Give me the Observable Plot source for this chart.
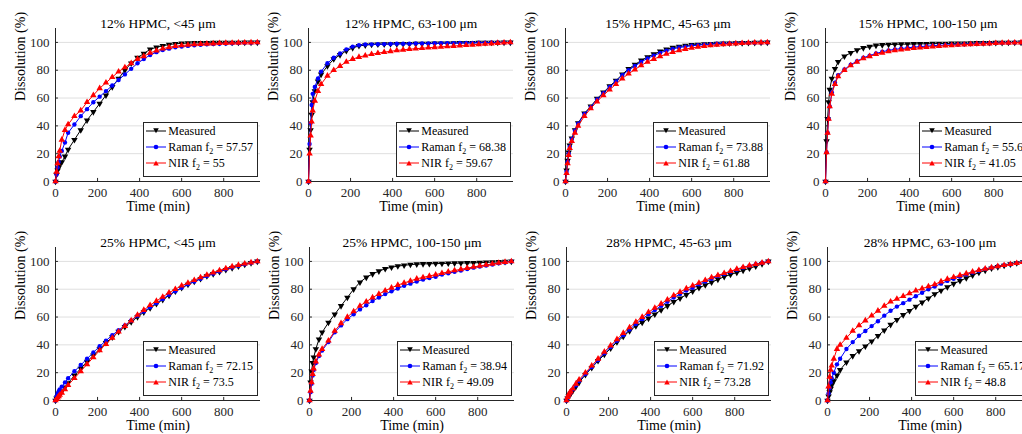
<!DOCTYPE html>
<html><head><meta charset="utf-8">
<script src="https://cdn.jsdelivr.net/npm/d3@7"></script>
<script src="https://cdn.jsdelivr.net/npm/@observablehq/plot@0.6"></script>
<style>
html,body{margin:0;padding:0;background:#fff;}
#fig{position:relative;width:1022px;height:434px;overflow:hidden;font-family:'Liberation Serif',serif;}
.panel{position:absolute;width:262px;height:218px;}
.panel > svg{position:absolute;left:0;top:0;background:transparent;overflow:visible;font-family:'Liberation Serif',serif;}
.panel > svg text{font-family:'Liberation Serif',serif;}
.legend{position:absolute;right:4px;bottom:41px;background:#fff;border:1px solid #262626;padding:0 4px 5px 2px;font-size:12px;color:#000;line-height:16px;font-family:'Liberation Serif',serif;}
.legend .row{display:flex;align-items:center;height:16px;white-space:nowrap;}
.legend .row svg{margin-right:1px;flex:none;}
.legend sub{font-size:8px;line-height:0;vertical-align:-3px;}
</style></head><body><div id="fig"></div>
<script>
// ---- data ----
const time = [0,5,10,15,20,30,45,60,90,120,150,180,210,240,270,300,330,360,390,420,450,480,510,540,570,600,630,660,690,720,750,780,810,840,870,900,930,960];
const xTicks = [0,200,400,600,800];
const yTicks = [0,20,40,60,80,100];
const titles = ["12% HPMC, <45 μm","12% HPMC, 63-100 μm","15% HPMC, 45-63 μm","15% HPMC, 100-150 μm",
                "25% HPMC, <45 μm","25% HPMC, 100-150 μm","28% HPMC, 45-63 μm","28% HPMC, 63-100 μm"];
const ramanF2 = ["57.57","68.38","73.88","55.6","72.15","38.94","71.92","65.17"];
const nirF2 = ["55","59.67","61.88","41.05","73.5","49.09","73.28","48.8"];

const measured1 = [0,5,8,10,12,14,18,23,30,37,44,50,56,62,68,74,80,85,89,92,95,96.5,97.5,98.5,99,99.3,99.5,99.6,99.7,99.7,99.8,99.8,99.9,99.9,99.9,100,100,100];
const raman1 = [0,5,10,14,18,22,28,35,41,47,52,57,61,65,69,73,77,81,85,88,91,93,94.5,95.5,96.5,97,97.5,98,98.3,98.6,98.8,99,99.2,99.4,99.5,99.7,99.8,100];
const nir1 = [0,7,13,18,22,30,37,41,47,51,57,62,67,71,75,79,82,85,88,90,92.5,94,95.5,96.5,97.3,97.8,98.2,98.5,98.8,99,99.2,99.4,99.5,99.6,99.7,99.8,99.9,100];

const measured2 = [0,23,37,48,57,65,72,77,83,88,91,94,96,97.5,98,98.5,98.6,98.7,98.8,98.9,99,99,99.1,99.2,99.2,99.3,99.4,99.4,99.5,99.6,99.6,99.7,99.8,99.8,99.9,99.9,100,100];
const raman2 = [0,27,42,55,63,68,74,79,85,89,92,95,97,98,98.5,98.6,98.7,98.8,98.9,99,99,99.1,99.2,99.2,99.3,99.4,99.4,99.5,99.5,99.6,99.7,99.7,99.8,99.8,99.9,99.9,100,100];
const nir2 = [0,20,33,43,51,58,65,70,76,80,83,86,88,89.5,90.5,91.5,92.3,93,93.6,94.2,94.7,95.1,95.5,95.8,96.2,96.5,96.8,97.1,97.4,97.7,98,98.3,98.6,98.9,99.2,99.5,99.8,100];

const measured3 = [0,8,15,21,26,31,37,42,49,54,59.5,64,68.5,72.5,77,81,84,87,89.5,91.5,93.5,95,96.2,97,97.7,98.2,98.5,98.8,99,99.2,99.3,99.4,99.5,99.6,99.7,99.8,99.9,100];
const raman3 = [0,7,14,20,25,30.5,36.5,41.5,48.5,53.5,59,63.5,68,72,76.5,80,83,86,88.5,90.5,92.5,94,95.3,96.3,97,97.6,98,98.4,98.7,99,99.2,99.3,99.5,99.6,99.7,99.8,99.9,100];
const nir3 = [0,6,13,19,24,29,35,40,47,52.5,57.5,62,66,70,74,77.5,80.5,83.5,86,88,90,91.7,93,94.2,95.2,96,96.7,97.3,97.8,98.2,98.6,98.9,99.2,99.4,99.6,99.8,99.9,100];

const measured4 = [0,29,45,57,66,74,81,86,90,92.5,94.5,96,97,97.8,98.2,98.5,98.6,98.7,98.8,98.9,99,99,99.1,99.2,99.2,99.3,99.4,99.4,99.5,99.6,99.6,99.7,99.8,99.8,99.9,99.9,100,100];
const raman4 = [0,21,35,45,54,64,71,76.5,80.5,84,86.5,89,90.5,92,93.3,94.3,95,95.6,96.1,96.6,97,97.3,97.6,97.9,98.1,98.3,98.5,98.7,98.9,99.1,99.3,99.4,99.5,99.7,99.8,99.9,100,100];
const nir4 = [0,21,35,45,54,63,70,75.5,80,83.5,86,88.5,90,91.5,92.5,93.5,94.2,94.8,95.3,95.8,96.2,96.6,97,97.3,97.6,97.9,98.2,98.4,98.6,98.8,99,99.2,99.4,99.6,99.7,99.8,99.9,100];

const measured5 = [0,1.5,2.5,3.5,4.5,6.5,9.5,12.5,18,23,28,32.5,37,41.5,45.5,49.5,53,56.5,60,63.5,66.5,69.5,72.5,75.5,78.5,81,83.3,85.5,87.5,89.5,91,92.5,94,95.3,96.5,97.7,98.9,100];
const raman5 = [0,3,5,6.5,8,10,13,16,21,25.5,30,34.5,39,43,47,50.5,54,57.5,61,64,67,70,73,76,78.5,81,83.5,85.5,87.5,89.5,91.2,92.8,94.3,95.6,96.8,97.9,99,100];
const nir5 = [0,1,2,3,4,5.5,8,11,16,21,26,31,36,40.5,45,49.5,53.5,57.5,61.5,65,68.5,71.5,74.5,77.5,80,82.5,84.5,86.5,88.5,90.3,92,93.5,95,96.3,97.4,98.4,99.2,100];

const measured6 = [0,13,21,27,31,37,44,49,56,62,68,74,80,85,88.5,91,93,94.7,95.8,96.6,97.2,97.7,98,98.2,98.3,98.4,98.5,98.6,98.7,98.8,98.9,99,99.1,99.3,99.5,99.6,99.8,100];
const raman6 = [0,6,12,18,22,27,32,36,42,49,54,58.5,62,65.5,68.5,71.5,74,76.5,78.5,80.5,82.5,84,85.5,87,88,89,90.5,91.5,92.5,93.5,94.5,95.5,96.3,97,97.8,98.6,99.3,100];
const nir6 = [0,7,13,19,23,28,33,37,43,50,55.5,60,64,68,71,74,76.5,79,81,83,84.5,86,87.5,88.5,89.5,90.5,91.5,92.5,93.5,94.3,95.2,96,96.8,97.5,98.2,98.9,99.5,100];

const measured7 = [0,1.5,3,4,5,7,10,13,18.5,23.5,28.5,33,37.5,42,46,50,53.5,56,59,62,65,68,71,73.5,76,78.5,81,83,85,87,89,90.5,92,93.5,95,96.5,98.2,100];
const raman7 = [0,2,3.5,5,6,8,11,14,19,24,29,34,38.5,43,47,51,55,58.5,62,65,68,71,74,76.5,79,81,83.5,85.5,87.5,89.5,91,92.5,94,95.5,96.8,98,99,100];
const nir7 = [0,2.5,4,5.5,6.5,8.5,12,15,20,25,30,35,39.5,44,48.5,52.5,56.5,60,63.5,66.5,69.5,72.5,75.5,78,80.5,82.5,84.5,86.5,88.5,90,91.5,93,94.5,95.8,97,98,99,100];

const measured8 = [0,3,6,8.5,11,14,18,22,27.5,32,35.5,39,42.5,46.5,50.5,54.5,58,61.5,64.5,67.5,70.5,73.5,76.5,79,81.5,84,86,88,90,92,93.5,95,96,97,98,98.8,99.5,100];
const raman8 = [0,5,9,13,16,20,26,30,37,42,46.5,50,53.5,57,61,64.5,67.5,70,72.5,75,77.5,80,82,84,86,87.5,89,90.5,92,93.3,94.5,95.5,96.5,97.3,98,98.8,99.4,100];
const nir8 = [0,10,17,22,25,30,37,40,45,50,54,57.5,61,64.5,68,71,73,75,77,79,80.5,82,83.5,85.5,87.3,88.7,90,91.3,92.5,93.7,94.7,95.6,96.5,97.3,98,98.7,99.4,100];

const measuredAll = [measured1,measured2,measured3,measured4,measured5,measured6,measured7,measured8];
const ramanAll = [raman1,raman2,raman3,raman4,raman5,raman6,raman7,raman8];
const nirAll = [nir1,nir2,nir3,nir4,nir5,nir6,nir7,nir8];

// ---- layout ----
const panelLeft = [0,253,510,770, 0,254,511,772];
const panelTop = [0,0,0,0, 219,219,219,219];
const colors = {Measured:"#000000", Raman:"#0000ff", NIR:"#ff0000"};

const triDown = {draw(ctx, size){ const y = -Math.sqrt(size/(Math.sqrt(3)*3)); ctx.moveTo(0,-y*2); ctx.lineTo(-Math.sqrt(3)*y, y); ctx.lineTo(Math.sqrt(3)*y, y); ctx.closePath(); }};
const symbols = {Measured: triDown, Raman: "circle", NIR: "triangle"};
const radius = {Measured: 2.4, Raman: 2.2, NIR: 2.4};

const fig = document.getElementById("fig");
const FONT = "Liberation Serif";

function seriesMarks(vals, name){
  const data = time.map((t,j)=>({t, v: vals[j]}));
  return [
    Plot.line(data, {x:"t", y:"v", stroke: colors[name], strokeWidth: 1}),
    Plot.dot(data, {x:"t", y:"v", fill: colors[name], symbol: symbols[name], r: radius[name]})
  ];
}

function legendSample(name){
  const c = colors[name];
  let m;
  if (name === "Measured") m = `<path d="M7.2,3.2 L12.8,3.2 L10,8.2 Z" fill="${c}"/>`;
  else if (name === "Raman") m = `<circle cx="10" cy="6" r="2.3" fill="${c}"/>`;
  else m = `<path d="M7.2,8.4 L12.8,8.4 L10,3.4 Z" fill="${c}"/>`;
  return `<svg width="21" height="12" viewBox="0 0 21 12"><line x1="0" y1="6" x2="20" y2="6" stroke="${c}" stroke-width="1"/>${m}</svg>`;
}

for (let i = 0; i < 8; i++) {
  const div = document.createElement("div");
  div.className = "panel";
  div.style.left = panelLeft[i] + "px";
  div.style.top = panelTop[i] + "px";
  const chart = Plot.plot({
    width: 262, height: 218,
    marginLeft: 55, marginRight: 2, marginTop: 28, marginBottom: 37,
    x: {domain: [0, 975]},
    y: {domain: [0, 110]},
    style: {fontFamily: FONT, fontSize: "13px", background: "transparent", color: "#262626", overflow: "visible"},
    marks: [
      Plot.gridY(yTicks, {stroke: "#262626", strokeOpacity: 0.15}),
      Plot.ruleX(xTicks, {y1: 0, y2: 2.2, stroke: "#262626"}),
      Plot.ruleY(yTicks, {x1: 0, x2: 14, stroke: "#262626"}),
      Plot.ruleX([0], {stroke: "#262626"}),
      Plot.ruleY([0], {stroke: "#262626"}),
      Plot.axisX({ticks: xTicks, tickSize: 0, tickPadding: 6, label: null, fontFamily: FONT}),
      Plot.axisY({ticks: yTicks, tickSize: 0, tickPadding: 6, label: null, fontFamily: FONT}),
      ...seriesMarks(measuredAll[i], "Measured"),
      ...seriesMarks(ramanAll[i], "Raman"),
      ...seriesMarks(nirAll[i], "NIR"),
      Plot.text([titles[i]], {frameAnchor: "top", lineAnchor: "bottom", dy: -1, fontSize: 13.5, fill: "#000", fontFamily: FONT}),
      Plot.text(["Time (min)"], {frameAnchor: "bottom", dy: 29.5, fontSize: 14, fill: "#000", fontFamily: FONT}),
      Plot.text(["Dissolution (%)"], {frameAnchor: "left", rotate: -90, dx: -35, dy: -4, fontSize: 14, fill: "#000", fontFamily: FONT})
    ]
  });
  div.appendChild(chart);
  const leg = document.createElement("div");
  leg.className = "legend";
  leg.innerHTML =
    `<div class="row">${legendSample("Measured")}<span>Measured</span></div>` +
    `<div class="row">${legendSample("Raman")}<span>Raman f<sub>2</sub> = ${ramanF2[i]}</span></div>` +
    `<div class="row">${legendSample("NIR")}<span>NIR f<sub>2</sub> = ${nirF2[i]}</span></div>`;
  div.appendChild(leg);
  fig.appendChild(div);
}
</script></body></html>
